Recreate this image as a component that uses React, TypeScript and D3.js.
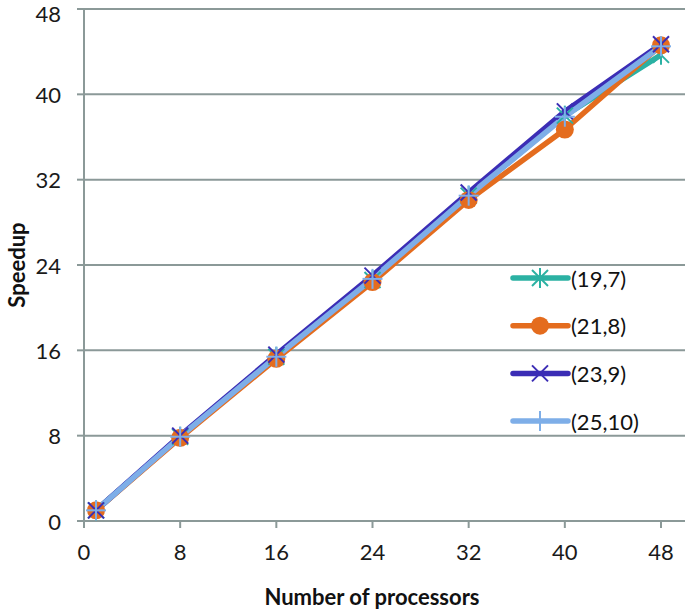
import React from "react";
import * as d3 from "d3";

const processors = [1, 8, 16, 24, 32, 40, 48];
const s19_7 = [1, 7.9, 15.4, 22.6, 30.5, 38.0, 43.7];
const s21_8 = [1, 7.8, 15.2, 22.4, 30.1, 36.7, 44.6];
const s23_9 = [1, 8.0, 15.6, 23.0, 30.8, 38.4, 44.7];
const s25_10 = [1, 7.9, 15.4, 22.7, 30.5, 37.9, 44.5];
const seriesNames = ["(19,7)", "(21,8)", "(23,9)", "(25,10)"];
const xTicks = [0, 8, 16, 24, 32, 40, 48];
const yTicks = [0, 8, 16, 24, 32, 40, 48];

const W = 685, H = 609;
const FONT = "Lato, 'Liberation Sans', sans-serif";

type Marker = "asterisk" | "circle" | "x" | "plus";

function MarkerShape({ type, x, y, color }: { type: Marker; x: number; y: number; color: string }) {
  const s = 8;
  if (type === "circle") return <circle cx={x} cy={y} r={9} fill={color} />;
  if (type === "x")
    return (
      <g stroke={color} strokeWidth={2}>
        <line x1={x - s} y1={y - s} x2={x + s} y2={y + s} />
        <line x1={x - s} y1={y + s} x2={x + s} y2={y - s} />
      </g>
    );
  if (type === "plus")
    return (
      <g stroke={color} strokeWidth={2}>
        <line x1={x} y1={y - s - 2} x2={x} y2={y + s + 2} />
        <line x1={x - s - 2} y1={y} x2={x + s + 2} y2={y} />
      </g>
    );
  return (
    <g stroke={color} strokeWidth={2}>
      <line x1={x - s} y1={y - s} x2={x + s} y2={y + s} />
      <line x1={x - s} y1={y + s} x2={x + s} y2={y - s} />
      <line x1={x} y1={y - s - 2} x2={x} y2={y + s + 2} />
    </g>
  );
}

export default function App() {
  const x = d3.scaleLinear().domain([0, 48]).range([84, 661]);
  const y = d3.scaleLinear().domain([0, 48]).range([521, 9]);
  const series = [
    { name: seriesNames[0], values: s19_7, color: "#2bb1a3", marker: "asterisk" as Marker },
    { name: seriesNames[1], values: s21_8, color: "#e46c1e", marker: "circle" as Marker },
    { name: seriesNames[2], values: s23_9, color: "#3b2db5", marker: "x" as Marker },
    { name: seriesNames[3], values: s25_10, color: "#7eaee8", marker: "plus" as Marker },
  ];
  const line = d3
    .line<number>()
    .x((_, i) => x(processors[i]))
    .y((d) => y(d));
  const gridColor = "#8b9998";
  const legendX = 513, legendY0 = 278, legendStep = 47.7;
  return (
    <svg width={W} height={H} style={{ position: "absolute", left: 0, top: 0, background: "#fff" }} fontFamily={FONT}>
      {yTicks.map((t) => (
        <g key={"y" + t}>
          {t > 0 && <line x1={84} x2={685} y1={y(t)} y2={y(t)} stroke={gridColor} strokeWidth={2} />}
          <line x1={77} x2={84} y1={y(t)} y2={y(t)} stroke={gridColor} strokeWidth={2} />
          <text x={61} y={Math.max(y(t), 13)} textAnchor="end" dominantBaseline="central" fontSize={22} fill="#1a1a1a">
            {t}
          </text>
        </g>
      ))}
      <line x1={84} x2={84} y1={y(48)} y2={y(0) + 7} stroke={gridColor} strokeWidth={2} />
      <line x1={77} x2={685} y1={y(0)} y2={y(0)} stroke={gridColor} strokeWidth={2} />
      {xTicks.map((t) => (
        <g key={"x" + t}>
          <line x1={x(t)} x2={x(t)} y1={y(0)} y2={y(0) + 7} stroke={gridColor} strokeWidth={2} />
          <text x={x(t)} y={551} textAnchor="middle" dominantBaseline="central" fontSize={22} fill="#1a1a1a">
            {t}
          </text>
        </g>
      ))}
      <text x={372} y={596} textAnchor="middle" dominantBaseline="central" fontSize={22} fontWeight="bold" fill="#111">
        Number of processors
      </text>
      <text
        transform={`translate(16,265) rotate(-90)`}
        textAnchor="middle"
        dominantBaseline="central"
        fontSize={22}
        fontWeight="bold"
        fill="#111"
      >
        Speedup
      </text>
      {series.map((s) => (
        <path key={s.name + "l"} d={line(s.values) || ""} fill="none" stroke={s.color} strokeWidth={5.5} strokeLinejoin="round" />
      ))}
      {series.map((s) => (
        <g key={s.name + "m"}>
          {s.values.map((v, i) => (
            <MarkerShape key={i} type={s.marker} x={x(processors[i])} y={y(v)} color={s.color} />
          ))}
        </g>
      ))}
      {series.map((s, i) => {
        const ly = legendY0 + i * legendStep;
        return (
          <g key={s.name + "lg"}>
            <line x1={legendX} x2={legendX + 55} y1={ly} y2={ly} stroke={s.color} strokeWidth={5.5} strokeLinecap="round" />
            <MarkerShape type={s.marker} x={legendX + 27} y={ly} color={s.color} />
            <text x={legendX + 58} y={ly} dominantBaseline="central" fontSize={22} fill="#111">
              {s.name}
            </text>
          </g>
        );
      })}
    </svg>
  );
}
